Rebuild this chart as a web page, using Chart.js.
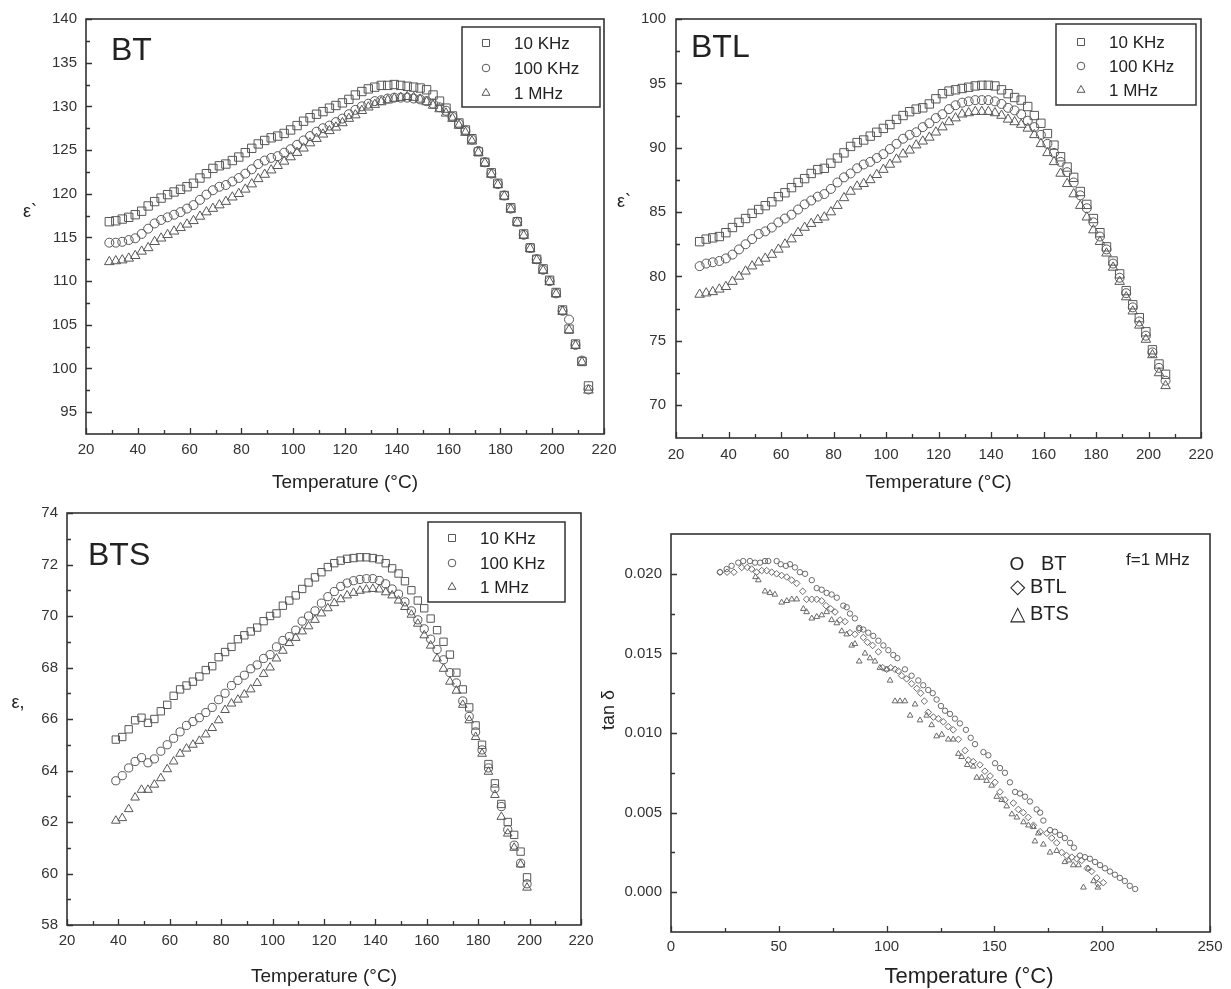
<!DOCTYPE html>
<html>
<head>
<meta charset="utf-8">
<title>Dielectric constant and loss tangent vs temperature</title>
<script src="https://cdn.jsdelivr.net/npm/chart.js@4.4.1/dist/chart.umd.min.js"></script>
<style>
  body { margin: 0; background: #fff; }
  #wrap { position: relative; width: 1231px; height: 989px; overflow: hidden; background: #fff; }
  canvas { position: absolute; }
</style>
</head>
<body>
<div id="wrap">
  <canvas id="chartBT" width="630" height="500" style="left:0px;top:0px"></canvas>
  <canvas id="chartBTL" width="616" height="500" style="left:615px;top:0px"></canvas>
  <canvas id="chartBTS" width="615" height="499" style="left:0px;top:490px"></canvas>
  <canvas id="chartTan" width="641" height="499" style="left:590px;top:490px"></canvas>
</div>
<script>

// ---- BT : dielectric constant vs temperature ----
var btTemp = [29, 31.5, 34, 36.5, 39, 41.5, 44, 46.5, 49, 51.5, 54, 56.5, 59, 61.5, 64, 66.5, 69, 71.5, 74, 76.5,
  79, 81.5, 84, 86.5, 89, 91.5, 94, 96.5, 99, 101.5, 104, 106.5, 109, 111.5, 114, 116.5, 119, 121.5, 124, 126.5,
  129, 131.5, 134, 136.5, 139, 141.5, 144, 146.5, 149, 151.5, 154, 156.5, 159, 161.5, 164, 166.5, 169, 171.5, 174, 176.5,
  179, 181.5, 184, 186.5, 189, 191.5, 194, 196.5, 199, 201.5, 204, 206.5, 209, 211.5, 214];
var bt10k = [116.8, 116.9, 117.1, 117.3, 117.6, 118.0, 118.6, 119.1, 119.5, 119.9,
  120.2, 120.5, 120.8, 121.2, 121.8, 122.3, 122.9, 123.2, 123.4, 123.8,
  124.2, 124.7, 125.2, 125.7, 126.1, 126.4, 126.6, 126.9, 127.3, 127.8,
  128.3, 128.7, 129.1, 129.4, 129.8, 130.1, 130.4, 130.8, 131.3, 131.7,
  132.0, 132.2, 132.4, 132.4, 132.5, 132.4, 132.3, 132.2, 132.1, 131.9,
  131.3, 130.6, 129.8, 128.9, 128.1, 127.3, 126.3, 124.8, 123.6, 122.4,
  121.2, 119.8, 118.4, 116.8, 115.4, 113.8, 112.5, 111.4, 110.1, 108.7,
  106.7, 104.5, 102.8, 100.8, 98.0];
var bt100k = [114.4, 114.4, 114.5, 114.7, 114.9, 115.4, 116.0, 116.6, 117.0, 117.3,
  117.6, 117.9, 118.3, 118.7, 119.3, 119.9, 120.4, 120.8, 121.0, 121.4,
  121.8, 122.3, 122.8, 123.4, 123.8, 124.1, 124.3, 124.7, 125.1, 125.6,
  126.1, 126.6, 127.1, 127.5, 127.8, 128.2, 128.6, 129.1, 129.6, 130.0,
  130.3, 130.6, 130.7, 130.9, 131.0, 131.0, 131.0, 130.9, 130.8, 130.6,
  130.3, 129.9, 129.5, 128.8, 128.0, 127.2, 126.2, 124.9, 123.6, 122.3,
  121.1, 119.8, 118.3, 116.8, 115.3, 113.8, 112.5, 111.3, 110.0, 108.6,
  106.6, 105.6, 102.7, 100.9, 97.6];
var bt1m = [112.2, 112.3, 112.4, 112.6, 112.9, 113.4, 113.8, 114.5, 114.9, 115.3,
  115.7, 116.1, 116.5, 116.9, 117.4, 117.9, 118.3, 118.7, 119.1, 119.6,
  120.0, 120.5, 121.1, 121.7, 122.2, 122.7, 123.2, 123.7, 124.2, 124.7,
  125.2, 125.8, 126.3, 126.8, 127.2, 127.6, 128.1, 128.6, 129.0, 129.5,
  129.9, 130.2, 130.5, 130.7, 130.9, 131.0, 131.1, 131.0, 130.8, 130.5,
  130.1, 129.7, 129.2, 128.6, 127.8, 127.0, 126.0, 124.7, 123.5, 122.2,
  121.0, 119.7, 118.2, 116.7, 115.2, 113.7, 112.4, 111.2, 109.9, 108.5,
  106.5, 104.4, 102.6, 100.7, 97.5];
var btXTicks = [20, 40, 60, 80, 100, 120, 140, 160, 180, 200, 220];
var btYTicks = [95, 100, 105, 110, 115, 120, 125, 130, 135, 140];

// ---- BTL ----
var btlTemp = [29, 31.5, 34, 36.5, 39, 41.5, 44, 46.5, 49, 51.5, 54, 56.5, 59, 61.5, 64, 66.5, 69, 71.5, 74, 76.5,
  79, 81.5, 84, 86.5, 89, 91.5, 94, 96.5, 99, 101.5, 104, 106.5, 109, 111.5, 114, 116.5, 119, 121.5, 124, 126.5,
  129, 131.5, 134, 136.5, 139, 141.5, 144, 146.5, 149, 151.5, 154, 156.5, 159, 161.5, 164, 166.5, 169, 171.5, 174, 176.5,
  179, 181.5, 184, 186.5, 189, 191.5, 194, 196.5, 199, 201.5, 204, 206.5];
var btl10k = [82.7, 82.9, 83.0, 83.1, 83.4, 83.8, 84.2, 84.5, 84.9, 85.2,
  85.5, 85.8, 86.2, 86.5, 86.9, 87.3, 87.6, 88.0, 88.3, 88.4,
  88.8, 89.2, 89.6, 90.1, 90.4, 90.6, 90.9, 91.2, 91.5, 91.8,
  92.2, 92.5, 92.8, 93.0, 93.1, 93.4, 93.8, 94.2, 94.4, 94.5,
  94.6, 94.7, 94.8, 94.85, 94.85, 94.8, 94.5, 94.2, 93.9, 93.7,
  93.2, 92.5, 91.9, 91.1, 90.2, 89.3, 88.5, 87.7, 86.6, 85.6,
  84.5, 83.4, 82.3, 81.2, 80.2, 78.9, 77.8, 76.8, 75.7, 74.3,
  73.2, 72.4];
var btl100k = [80.8, 81.0, 81.1, 81.2, 81.4, 81.7, 82.1, 82.5, 82.9, 83.3,
  83.5, 83.8, 84.2, 84.5, 84.8, 85.2, 85.6, 85.9, 86.2, 86.4,
  86.8, 87.3, 87.7, 88.0, 88.4, 88.7, 88.9, 89.2, 89.5, 89.9,
  90.3, 90.7, 91.0, 91.2, 91.6, 91.9, 92.3, 92.6, 93.0, 93.3,
  93.5, 93.6, 93.7, 93.7, 93.7, 93.6, 93.4, 93.1, 92.9, 92.6,
  92.1, 91.6, 91.0, 90.3, 89.6, 88.9, 88.1, 87.3, 86.3, 85.3,
  84.2, 83.1, 82.1, 81.0, 79.9, 78.7, 77.6, 76.5, 75.4, 74.1,
  72.9, 71.9];
var btl1m = [78.6, 78.7, 78.8, 79.0, 79.2, 79.6, 80.0, 80.4, 80.8, 81.1,
  81.4, 81.7, 82.1, 82.5, 82.9, 83.4, 83.8, 84.1, 84.4, 84.6,
  85.0, 85.5, 86.1, 86.6, 87.0, 87.2, 87.5, 87.9, 88.3, 88.7,
  89.1, 89.5, 89.8, 90.2, 90.5, 90.8, 91.2, 91.6, 92.0, 92.3,
  92.6, 92.7, 92.8, 92.8, 92.8, 92.7, 92.5, 92.2, 92.0, 91.8,
  91.5, 91.0, 90.3, 89.6, 88.9, 88.0, 87.2, 86.4, 85.5, 84.6,
  83.6, 82.7, 81.8, 80.7, 79.6, 78.4, 77.3, 76.2, 75.1, 73.9,
  72.5, 71.5];
var btlXTicks = [20, 40, 60, 80, 100, 120, 140, 160, 180, 200, 220];
var btlYTicks = [70, 75, 80, 85, 90, 95, 100];

// ---- BTS ----
var btsTemp = [39, 41.5, 44, 46.5, 49, 51.5, 54, 56.5, 59, 61.5, 64, 66.5, 69, 71.5, 74, 76.5, 79, 81.5, 84, 86.5,
  89, 91.5, 94, 96.5, 99, 101.5, 104, 106.5, 109, 111.5, 114, 116.5, 119, 121.5, 124, 126.5, 129, 131.5, 134, 136.5,
  139, 141.5, 144, 146.5, 149, 151.5, 154, 156.5, 159, 161.5, 164, 166.5, 169, 171.5, 174, 176.5, 179, 181.5, 184, 186.5,
  189, 191.5, 194, 196.5, 199];
var bts10k = [65.2, 65.3, 65.6, 65.95, 66.05, 65.85, 66.0, 66.3, 66.55, 66.9,
  67.15, 67.3, 67.45, 67.65, 67.9, 68.05, 68.4, 68.6, 68.8, 69.1,
  69.25, 69.4, 69.55, 69.8, 70.0, 70.1, 70.4, 70.6, 70.8, 71.05,
  71.3, 71.5, 71.7, 71.9, 72.05, 72.15, 72.22, 72.25, 72.28, 72.28,
  72.25, 72.2, 72.05, 71.85, 71.65, 71.35, 71.0, 70.6, 70.3, 69.9,
  69.45, 69.0, 68.5, 67.8, 67.15, 66.45, 65.75, 65.0, 64.25, 63.5,
  62.7, 62.0, 61.5, 60.85, 59.85];
var bts100k = [63.6, 63.8, 64.1, 64.35, 64.5, 64.3, 64.45, 64.75, 65.0, 65.25,
  65.5, 65.75, 65.9, 66.05, 66.25, 66.45, 66.75, 67.0, 67.3, 67.5,
  67.7, 67.95, 68.1, 68.35, 68.5, 68.8, 69.05, 69.2, 69.45, 69.8,
  70.0, 70.2, 70.5, 70.75, 70.95, 71.15, 71.28, 71.37, 71.42, 71.45,
  71.45, 71.38, 71.25, 71.05, 70.85, 70.55, 70.2, 69.85, 69.5, 69.1,
  68.7, 68.3, 67.8, 67.4, 66.7, 66.1, 65.5, 64.8, 64.1, 63.3,
  62.6, 61.7, 61.1, 60.4, 59.6];
var bts1m = [62.05, 62.15, 62.5, 62.95, 63.25, 63.25, 63.45, 63.7, 64.05, 64.35,
  64.65, 64.85, 65.0, 65.15, 65.4, 65.65, 65.95, 66.35, 66.6, 66.75,
  66.95, 67.15, 67.4, 67.75, 68.0, 68.35, 68.65, 68.95, 69.15, 69.4,
  69.6, 69.85, 70.1, 70.3, 70.5, 70.65, 70.8, 70.9, 70.98, 71.03,
  71.05, 71.03, 70.92, 70.8, 70.6, 70.35, 70.05, 69.7, 69.25, 68.85,
  68.35, 67.95, 67.45, 67.1, 66.55, 65.95, 65.3, 64.65, 63.95, 63.05,
  62.2, 61.55, 61.0, 60.35, 59.45];
var btsXTicks = [20, 40, 60, 80, 100, 120, 140, 160, 180, 200, 220];
var btsYTicks = [58, 60, 62, 64, 66, 68, 70, 72, 74];

// ---- tan delta at 1 MHz ----
var tanBtTemp = [22.7, 25.8, 28.1, 31.2, 33.5, 36.6, 39.0, 41.3, 43.6, 45.1, 49.0, 50.9, 53.3, 55.2, 57.5, 59.8,
  62.2, 65.3, 67.6, 69.9, 72.2, 74.5, 76.9, 79.9, 81.5, 83.0, 85.3, 87.3, 89.2, 91.5, 93.8, 96.2, 98.5, 100.8,
  103.1, 105.0, 108.5, 111.6, 114.7, 117.0, 119.3, 121.4, 123.2, 125.2, 127.1, 129.4, 131.7, 134.0, 136.8, 139.0,
  141.0, 144.9, 147.2, 150.3, 152.6, 154.9, 157.2, 159.6, 161.9, 164.2, 166.5, 169.6, 171.2, 172.7, 175.8, 178.1,
  180.4, 182.7, 185.1, 186.9, 189.7, 192.0, 194.3, 196.7, 199.0, 201.3, 203.6, 205.9, 208.2, 210.5, 212.8, 215.3];
var tanBt = [0.0201, 0.0203, 0.0205, 0.0207, 0.0208, 0.0208, 0.0207, 0.0207, 0.0208, 0.0208, 0.0208, 0.0206, 0.0205, 0.0206, 0.0204, 0.0201,
  0.0200, 0.0196, 0.0191, 0.0190, 0.0188, 0.0187, 0.0185, 0.0180, 0.0179, 0.0175, 0.0172, 0.0166, 0.0165, 0.0163, 0.0161, 0.0158, 0.0155, 0.0152,
  0.0149, 0.0147, 0.0140, 0.0136, 0.0133, 0.0130, 0.0127, 0.0125, 0.0121, 0.0117, 0.0114, 0.0112, 0.0109, 0.0106, 0.0102, 0.0097,
  0.0093, 0.0088, 0.0086, 0.0081, 0.0078, 0.0075, 0.0069, 0.0063, 0.0062, 0.0060, 0.0057, 0.0052, 0.0050, 0.0045, 0.0039, 0.0038,
  0.0036, 0.0034, 0.0031, 0.0028, 0.0023, 0.0022, 0.0021, 0.0019, 0.0017, 0.0015, 0.0013, 0.0011, 0.0009, 0.0007, 0.0004, 0.0002];
var tanBtlTemp = [22.8, 26.0, 29.2, 32.8, 35.4, 37.4, 39.7, 42.1, 44.4, 46.7, 49.0, 51.3, 53.7, 56.0, 58.3, 61.1,
  62.9, 65.3, 67.6, 69.9, 71.9, 74.1, 76.1, 78.4, 80.7, 83.0, 85.3, 87.3, 89.2, 91.1, 93.5, 96.2, 98.2, 100.0,
  101.9, 103.9, 105.4, 107.0, 109.3, 111.6, 114.0, 115.8, 117.5, 119.3, 121.7, 124.0, 126.3, 128.6, 130.9, 133.3,
  136.4, 137.9, 140.2, 143.3, 145.6, 148.0, 150.3, 152.6, 154.9, 158.8, 161.1, 163.4, 165.7, 168.1, 171.2, 174.3,
  176.6, 178.9, 181.2, 183.5, 185.9, 188.2, 190.5, 193.1, 195.1, 197.5, 198.2, 200.5];
var tanBtl = [0.0201, 0.0201, 0.0201, 0.0204, 0.0204, 0.0203, 0.0201, 0.0202, 0.0202, 0.0201, 0.0200, 0.0199, 0.0198, 0.0196, 0.0194, 0.0189,
  0.0184, 0.0184, 0.0184, 0.0183, 0.0180, 0.0178, 0.0176, 0.0171, 0.0170, 0.0163, 0.0162, 0.0165, 0.0160, 0.0157, 0.0155, 0.0151, 0.0141, 0.0140,
  0.0141, 0.0140, 0.0139, 0.0136, 0.0134, 0.0131, 0.0128, 0.0125, 0.0120, 0.0113, 0.0110, 0.0109, 0.0107, 0.0104, 0.0102, 0.0096,
  0.0089, 0.0083, 0.0082, 0.0080, 0.0076, 0.0073, 0.0069, 0.0063, 0.0058, 0.0056, 0.0052, 0.0050, 0.0047, 0.0042, 0.0038, 0.0037,
  0.0034, 0.0031, 0.0025, 0.0023, 0.0022, 0.0021, 0.0020, 0.0015, 0.0013, 0.0009, 0.0005, 0.0006];
var tanBtsTemp = [39.2, 40.5, 43.6, 45.9, 48.2, 51.3, 53.7, 56.0, 58.3, 61.4, 62.9, 65.3, 67.6, 69.9, 72.2, 74.5,
  76.9, 79.2, 81.5, 83.8, 85.3, 87.3, 90.0, 92.3, 94.6, 96.9, 100.0, 101.6, 103.9, 106.2, 108.5, 110.9, 113.2, 115.5,
  118.6, 120.9, 123.2, 125.6, 128.6, 130.9, 133.3, 134.8, 137.4, 140.2, 141.8, 144.1, 146.4, 148.7, 151.1, 153.4,
  155.7, 158.1, 160.4, 163.5, 165.8, 168.1, 168.8, 170.4, 172.7, 175.8, 178.9, 182.7, 184.5, 186.6, 189.0, 191.3,
  193.5, 196.0, 198.0];
var tanBts = [0.0198, 0.0196, 0.0189, 0.0188, 0.0187, 0.0182, 0.0183, 0.0184, 0.0184, 0.0178, 0.0176, 0.0172, 0.0173, 0.0174, 0.0176, 0.0171,
  0.0169, 0.0164, 0.0162, 0.0155, 0.0156, 0.0145, 0.0150, 0.0147, 0.0145, 0.0141, 0.0140, 0.0133, 0.0120, 0.0120, 0.0120, 0.0111, 0.0118, 0.0108,
  0.0111, 0.0105, 0.0098, 0.0099, 0.0096, 0.0096, 0.0087, 0.0085, 0.0080, 0.0079, 0.0072, 0.0072, 0.0070, 0.0067, 0.0060, 0.0058,
  0.0054, 0.0049, 0.0047, 0.0044, 0.0042, 0.0041, 0.0032, 0.0037, 0.0030, 0.0025, 0.0026, 0.0019, 0.0020, 0.0017, 0.0017, 0.0003,
  0.0015, 0.0007, 0.0003];
var tanXTicks = [0, 50, 100, 150, 200, 250];
var tanYTicks = [0, 0.005, 0.010, 0.015, 0.020];

var freqLabels = ['10 KHz', '100 KHz', '1 MHz'];
var sampleLabels = ['BT', 'BTL', 'BTS'];


var FONT = "'Liberation Sans', Arial, sans-serif";
var MARK = '#575757';
Chart.defaults.font.family = FONT;
Chart.defaults.color = '#333';

function pairs(xs, ys) {
  return xs.map(function (x, i) { return { x: x, y: ys[i] }; });
}

// major ticks plus one minor tick halfway between each pair
function tickMarks(major) {
  var out = [];
  major.forEach(function (v, i) {
    out.push({ v: v, major: true });
    if (i < major.length - 1) out.push({ v: (v + major[i + 1]) / 2, major: false });
  });
  return out;
}

function drawMark(ctx, style, x, y, r) {
  ctx.beginPath();
  if (style === 'rect') {
    ctx.rect(x - r, y - r, 2 * r, 2 * r);
  } else if (style === 'circle') {
    ctx.arc(x, y, r, 0, Math.PI * 2);
  } else {
    ctx.moveTo(x, y - r);
    ctx.lineTo(x + r * 0.866, y + r * 0.5);
    ctx.lineTo(x - r * 0.866, y + r * 0.5);
    ctx.closePath();
  }
  ctx.stroke();
}

// frame, inward ticks, labels and legend box
var decor = {
  id: 'decor',
  afterDraw: function (chart, args, o) {
    var ctx = chart.ctx, a = chart.chartArea;
    var xs = chart.scales.x, ys = chart.scales.y;
    ctx.save();
    ctx.strokeStyle = '#333';
    ctx.lineWidth = 1.3;
    ctx.beginPath();
    tickMarks(o.xTicks).forEach(function (t) {
      var px = Math.round(xs.getPixelForValue(t.v)) + 0.5;
      ctx.moveTo(px, a.bottom);
      ctx.lineTo(px, a.bottom - (t.major ? 6 : 4));
    });
    tickMarks(o.yTicks).forEach(function (t) {
      var py = Math.round(ys.getPixelForValue(t.v)) + 0.5;
      ctx.moveTo(a.left, py);
      ctx.lineTo(a.left + (t.major ? 6 : 4), py);
    });
    ctx.stroke();
    ctx.lineWidth = 1.6;
    ctx.strokeRect(a.left, a.top, a.right - a.left, a.bottom - a.top);

    (o.texts || []).forEach(function (t) {
      ctx.save();
      ctx.fillStyle = '#222';
      ctx.font = t.size + 'px ' + FONT;
      ctx.textAlign = t.align || 'left';
      ctx.textBaseline = t.base || 'alphabetic';
      ctx.translate(t.x, t.y);
      if (t.rot) ctx.rotate(t.rot);
      ctx.fillText(t.t, 0, 0);
      ctx.restore();
    });

    if (o.legend) {
      var L = o.legend;
      ctx.lineWidth = 1.5;
      ctx.strokeStyle = '#333';
      ctx.strokeRect(L.x, L.y, L.w, L.h);
      ctx.font = '17px ' + FONT;
      ctx.textBaseline = 'middle';
      ctx.textAlign = 'left';
      L.rows.forEach(function (r) {
        ctx.strokeStyle = MARK;
        ctx.lineWidth = 1;
        drawMark(ctx, r.style, L.symX, r.y, r.r);
        ctx.fillStyle = '#222';
        ctx.fillText(r.label, L.textX, r.y + 1);
      });
    }
    ctx.restore();
  }
};

function freqSets(temp, a, b, c, rr) {
  var styles = ['rect', 'circle', 'triangle'];
  return [a, b, c].map(function (vals, i) {
    return {
      label: freqLabels[i],
      data: pairs(temp, vals),
      pointStyle: styles[i],
      pointRadius: rr[i],
      borderColor: MARK,
      borderWidth: 1,
      backgroundColor: 'rgba(0,0,0,0)',
      showLine: false
    };
  });
}

function makeOptions(c) {
  return {
    responsive: false,
    animation: false,
    events: [],
    layout: { padding: { left: 0, top: c.padTop, right: c.padRight, bottom: 0 } },
    plugins: { legend: { display: false }, tooltip: { enabled: false }, decor: c.decor },
    scales: {
      x: {
        type: 'linear',
        min: c.xMin, max: c.xMax,
        afterBuildTicks: function (s) { s.ticks = c.xTicks.map(function (v) { return { value: v }; }); },
        afterFit: function (s) { s.height = c.xHeight; },
        grid: { display: false, drawTicks: false },
        border: { display: false },
        ticks: { color: '#333', font: { size: 15 }, padding: c.xPad, maxRotation: 0, autoSkip: false,
          callback: function (v) { return String(v); } },
        title: { display: !!c.xTitle, text: c.xTitle || '', color: '#222', font: { size: 19 },
          padding: { top: 0, bottom: c.titlePad } }
      },
      y: {
        type: 'linear',
        min: c.yMin, max: c.yMax,
        afterBuildTicks: function (s) { s.ticks = c.yTicks.map(function (v) { return { value: v }; }); },
        afterFit: function (s) { s.width = c.yWidth; },
        grid: { display: false, drawTicks: false },
        border: { display: false },
        ticks: { color: '#333', font: { size: 15 }, padding: c.yPad, autoSkip: false,
          callback: c.yFormat || function (v) { return String(v); } },
        title: { display: false }
      }
    }
  };
}

// ---- panel BT ----
new Chart(document.getElementById('chartBT'), {
  type: 'scatter',
  data: { datasets: freqSets(btTemp, bt10k, bt100k, bt1m, [5.9, 4.5, 5.5]) },
  options: makeOptions({
    padTop: 19, padRight: 26, yWidth: 86, xHeight: 66,
    xMin: 20, xMax: 220, yMin: 92.5, yMax: 140,
    xTicks: btXTicks, yTicks: btYTicks, xPad: 7, yPad: 9,
    xTitle: 'Temperature (°C)', titlePad: 5.6,
    decor: {
      xTicks: btXTicks, yTicks: btYTicks,
      texts: [
        { t: 'BT', x: 111, y: 60, size: 32 },
        { t: 'ε`', x: 30, y: 212, size: 18, align: 'center', base: 'middle' }
      ],
      legend: { x: 462, y: 27, w: 138, h: 80, symX: 486, textX: 514, rows: [
        { y: 43, style: 'rect', r: 3.5, label: freqLabels[0] },
        { y: 68, style: 'circle', r: 3.8, label: freqLabels[1] },
        { y: 93, style: 'triangle', r: 4.6, label: freqLabels[2] }
      ] }
    }
  }),
  plugins: [decor]
});

// ---- panel BTL ----
new Chart(document.getElementById('chartBTL'), {
  type: 'scatter',
  data: { datasets: freqSets(btlTemp, btl10k, btl100k, btl1m, [5.9, 4.5, 5.5]) },
  options: makeOptions({
    padTop: 17, padRight: 30, yWidth: 61, xHeight: 62,
    xMin: 20, xMax: 220, yMin: 67.45, yMax: 100,
    xTicks: btlXTicks, yTicks: btlYTicks, xPad: 8, yPad: 10,
    xTitle: 'Temperature (°C)', titlePad: 5.6,
    decor: {
      xTicks: btlXTicks, yTicks: btlYTicks,
      texts: [
        { t: 'BTL', x: 76, y: 57, size: 32 },
        { t: 'ε`', x: 9, y: 202, size: 18, align: 'center', base: 'middle' }
      ],
      legend: { x: 441, y: 24, w: 140, h: 81, symX: 466, textX: 494, rows: [
        { y: 42, style: 'rect', r: 3.5, label: freqLabels[0] },
        { y: 66, style: 'circle', r: 3.8, label: freqLabels[1] },
        { y: 90, style: 'triangle', r: 4.6, label: freqLabels[2] }
      ] }
    }
  }),
  plugins: [decor]
});

// ---- panel BTS ----
new Chart(document.getElementById('chartBTS'), {
  type: 'scatter',
  data: { datasets: freqSets(btsTemp, bts10k, bts100k, bts1m, [5.2, 4.1, 5.0]) },
  options: makeOptions({
    padTop: 23, padRight: 34, yWidth: 67, xHeight: 64,
    xMin: 20, xMax: 220, yMin: 58, yMax: 74,
    xTicks: btsXTicks, yTicks: btsYTicks, xPad: 7, yPad: 9,
    xTitle: 'Temperature (°C)', titlePad: 0.6,
    decor: {
      xTicks: btsXTicks, yTicks: btsYTicks,
      texts: [
        { t: 'BTS', x: 88, y: 75, size: 32 },
        { t: 'ε,', x: 18, y: 213, size: 18, align: 'center', base: 'middle' }
      ],
      legend: { x: 428, y: 32, w: 137, h: 80, symX: 452, textX: 480, rows: [
        { y: 48, style: 'rect', r: 3.5, label: freqLabels[0] },
        { y: 73, style: 'circle', r: 3.8, label: freqLabels[1] },
        { y: 97, style: 'triangle', r: 4.6, label: freqLabels[2] }
      ] }
    }
  }),
  plugins: [decor]
});

// ---- panel tan delta ----
var tanStyles = ['circle', 'rectRot', 'triangle'];
var tanRadius = [2.7, 3.3, 3.3];
new Chart(document.getElementById('chartTan'), {
  type: 'scatter',
  data: {
    datasets: [pairs(tanBtTemp, tanBt), pairs(tanBtlTemp, tanBtl), pairs(tanBtsTemp, tanBts)].map(function (d, i) {
      return {
        label: sampleLabels[i], data: d, pointStyle: tanStyles[i], pointRadius: tanRadius[i],
        borderColor: '#6a6a6a', borderWidth: 1, backgroundColor: 'rgba(0,0,0,0)', showLine: false
      };
    })
  },
  options: makeOptions({
    padTop: 44, padRight: 21, yWidth: 81, xHeight: 57,
    xMin: 0, xMax: 250, yMin: -0.0025, yMax: 0.0225,
    xTicks: tanXTicks, yTicks: tanYTicks, xPad: 6, yPad: 9,
    xTitle: '', titlePad: 0,
    yFormat: function (v) { return v.toFixed(3); },
    decor: {
      xTicks: tanXTicks, yTicks: tanYTicks,
      texts: [
        { t: 'Temperature (°C)', x: 379, y: 487, size: 22, align: 'center', base: 'middle' },
        { t: 'tan δ', x: 19, y: 220, size: 18, align: 'center', base: 'middle', rot: -Math.PI / 2 },
        { t: 'O', x: 427, y: 80, size: 19, align: 'center' },
        { t: sampleLabels[0], x: 451, y: 80, size: 20 },
        { t: '◇', x: 427, y: 103, size: 20, align: 'center' },
        { t: sampleLabels[1], x: 440, y: 103, size: 20 },
        { t: '△', x: 427, y: 130, size: 20, align: 'center' },
        { t: sampleLabels[2], x: 440, y: 130, size: 20 },
        { t: 'f=1 MHz', x: 536, y: 75, size: 17 }
      ]
    }
  }),
  plugins: [decor]
});
</script>
</body>
</html>
